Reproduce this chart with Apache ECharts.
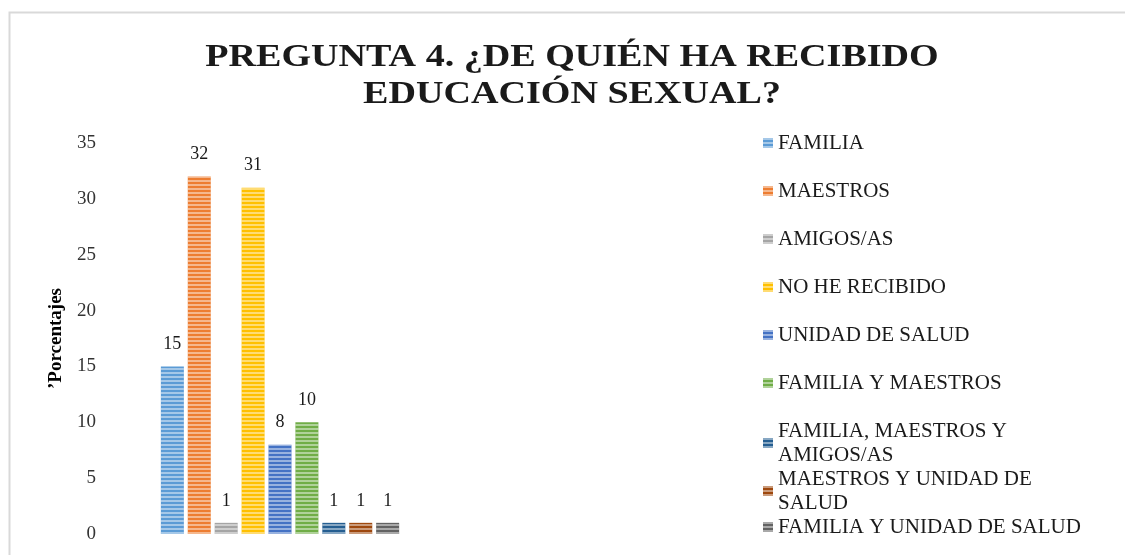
<!DOCTYPE html>
<html>
<head>
<meta charset="utf-8">
<script src="https://cdn.jsdelivr.net/npm/echarts@6/dist/echarts.min.js"></script>
<style>
  html, body { margin: 0; padding: 0; background: #fff; }
  #chart { width: 1125px; height: 555px; }
</style>
</head>
<body>
<div id="chart"></div>
<script>
const titleText = "PREGUNTA 4. ¿DE QUIÉN HA RECIBIDO\nEDUCACIÓN SEXUAL?";
const seriesNames = [
  "FAMILIA",
  "MAESTROS",
  "AMIGOS/AS",
  "NO HE RECIBIDO",
  "UNIDAD DE SALUD",
  "FAMILIA Y MAESTROS",
  "FAMILIA, MAESTROS Y AMIGOS/AS",
  "MAESTROS Y UNIDAD DE SALUD",
  "FAMILIA Y UNIDAD DE SALUD"
];
const legendLabels = [
  "FAMILIA",
  "MAESTROS",
  "AMIGOS/AS",
  "NO HE RECIBIDO",
  "UNIDAD DE SALUD",
  "FAMILIA Y MAESTROS",
  "FAMILIA, MAESTROS Y\nAMIGOS/AS",
  "MAESTROS Y UNIDAD DE\nSALUD",
  "FAMILIA Y UNIDAD DE SALUD"
];
const values = [15, 32, 1, 31, 8, 10, 1, 1, 1];
const yTicks = [0, 5, 10, 15, 20, 25, 30, 35];

const colors = ["#5B9BD5", "#ED7D31", "#A5A5A5", "#FFC000", "#4472C4",
  "#70AD47", "#255E91", "#9E480E", "#636363"];

const font = "'Liberation Serif', 'Times New Roman', serif";

// horizontal light stripes like the excel pattern fill
const stripes = {
  symbol: "rect",
  symbolSize: 1,
  dashArrayX: [1, 0],
  dashArrayY: [1.6, 1.8],
  color: "rgba(255,255,255,0.45)"
};

const chart = echarts.init(document.getElementById("chart"));

const seriesData = seriesNames.map((name, i) => ({
  name: name,
  type: "bar",
  data: [values[i]],
  barWidth: 23,
  barGap: "17%",
  itemStyle: { color: colors[i], decal: stripes },
  label: {
    show: true,
    position: "top",
    distance: 13,
    fontFamily: font,
    fontSize: 18,
    color: "#1a1a1a"
  }
}));

const labelOf = (name) => legendLabels[seriesNames.indexOf(name)];

const legendBase = {
  orient: "vertical",
  left: 763,
  padding: 0,
  itemWidth: 10,
  itemHeight: 10,
  icon: "rect",
  formatter: labelOf,
  textStyle: { fontFamily: font, fontSize: 21, color: "#1a1a1a" }
};

chart.setOption({
  backgroundColor: "#fff",
  graphic: [
    {
      type: "rect",
      shape: { x: 9.5, y: 12.5, width: 1200, height: 600 },
      style: { fill: null, stroke: "#d9d9d9", lineWidth: 2 },
      silent: true
    },
    {
      // title is stretched sideways to mimic the letter-spaced original
      type: "text",
      x: 572,
      y: 39,
      scaleX: 1.19,
      style: {
        text: titleText,
        font: "bold 32px " + font,
        fill: "#1a1a1a",
        align: "center",
        verticalAlign: "top",
        lineHeight: 37
      },
      silent: true
    }
  ],
  legend: [
    Object.assign({}, legendBase, {
      top: 130.5,
      itemGap: 23,
      data: seriesNames.slice(0, 6),
      textStyle: Object.assign({}, legendBase.textStyle, { lineHeight: 25 })
    }),
    Object.assign({}, legendBase, {
      top: 419,
      itemGap: 0,
      data: seriesNames.slice(6),
      textStyle: Object.assign({}, legendBase.textStyle, { lineHeight: 24 })
    })
  ],
  grid: { left: 104, right: 669, top: 143, bottom: 21 },
  xAxis: {
    type: "category",
    data: [""],
    axisLine: { show: false },
    axisTick: { show: false },
    axisLabel: { show: false }
  },
  yAxis: {
    type: "value",
    min: yTicks[0],
    max: yTicks[yTicks.length - 1],
    interval: 5,
    name: "’Porcentajes",
    nameLocation: "middle",
    nameRotate: 90,
    nameGap: 38,
    nameTextStyle: { fontFamily: font, fontSize: 19, fontWeight: "bold", color: "#000" },
    axisLine: { show: false },
    axisTick: { show: false },
    splitLine: { show: false },
    axisLabel: { fontFamily: font, fontSize: 19, color: "#333", margin: 8 }
  },
  series: seriesData
});
</script>
</body>
</html>
